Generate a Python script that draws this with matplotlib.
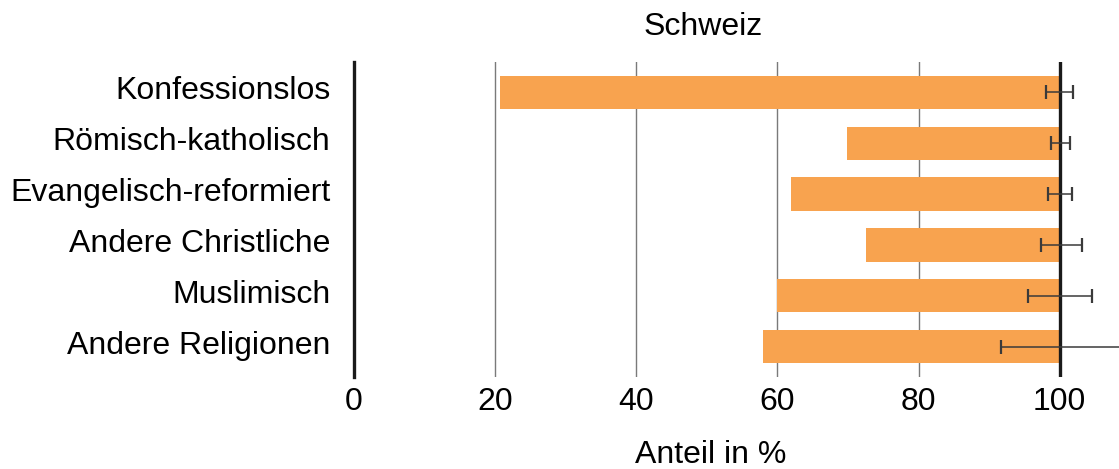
import matplotlib
matplotlib.use("Agg")
import matplotlib.pyplot as plt
from matplotlib.transforms import ScaledTranslation

plt.rcParams["font.family"] = ["Liberation Sans", "DejaVu Sans"]

categories = [
    "Konfessionslos",
    "Römisch-katholisch",
    "Evangelisch-reformiert",
    "Andere Christliche",
    "Muslimisch",
    "Andere Religionen",
]
bar_start = [20.7, 69.9, 61.9, 72.6, 59.9, 58.0]
reference = 100
err_low = [1.9, 1.3, 1.6, 2.7, 4.5, 8.3]
err_high = [1.9, 1.5, 1.7, 3.1, 4.6, 9.5]
xticks = [0, 20, 40, 60, 80, 100]

FS = 23
W, H = 1119, 469
fig = plt.figure(figsize=(W / 100, H / 100), dpi=100)
ax = fig.add_axes([354 / W, 92 / H, 1 - 354 / W, (377 - 62) / H])

y = list(range(len(categories)))
widths = [reference - s for s in bar_start]

for gx in xticks[1:-1]:
    ax.axvline(gx, color="#7a7a7a", lw=1.0, zorder=1)

ax.barh(y, widths, left=bar_start, height=0.66, color="#F8A34F", zorder=2)
ax.axvline(reference, color="#1a1a1a", lw=2.4, zorder=4)
ax.errorbar([reference] * len(y), y, xerr=[err_low, err_high], fmt="none",
            ecolor="#3a3a3a", elinewidth=1.1, capsize=4.8, capthick=1.6, zorder=5)

ax.set_xlim(0, 108.4)
ax.set_ylim(5.6, -0.6)
ax.set_yticks(y)
ax.set_yticklabels(categories, fontsize=FS)
ax.set_xticks(xticks)
ax.set_xticklabels([str(t) for t in xticks], fontsize=FS)
ax.tick_params(axis="y", length=0, pad=17)
ax.tick_params(axis="x", length=0, pad=7)

# category names sit a little above the bar centres
lift = ScaledTranslation(0, 0.045, fig.dpi_scale_trans)
for lab in ax.get_yticklabels():
    lab.set_transform(lab.get_transform() + lift)

for side in ["top", "right", "bottom"]:
    ax.spines[side].set_visible(False)
ax.spines["left"].set_linewidth(2.4)
ax.spines["left"].set_color("#1a1a1a")

fig.text(703 / W, 1 - 27 / H, "Schweiz", ha="center", va="center", fontsize=FS)
fig.text(711 / W, 1 - 455 / H, "Anteil in %", ha="center", va="center", fontsize=FS)

fig.savefig("out.png", dpi=100)
